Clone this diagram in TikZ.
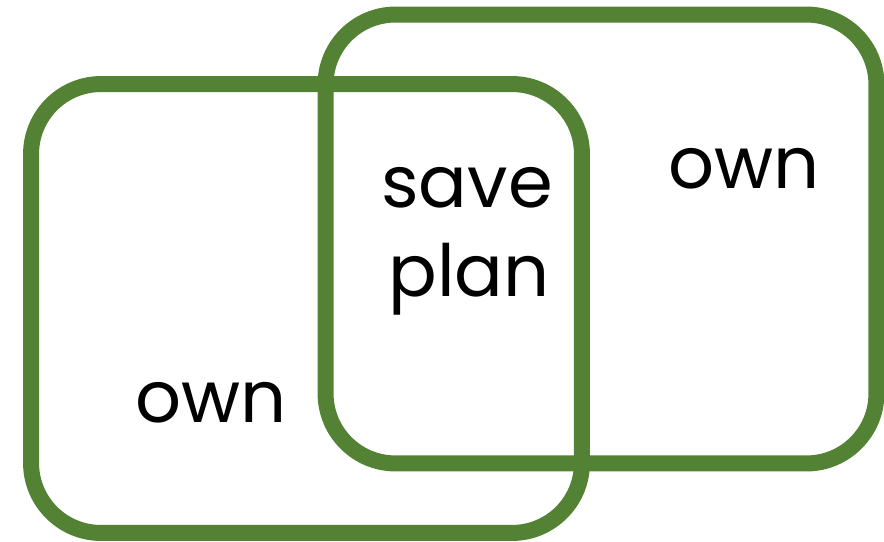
\documentclass[tikz,border=0pt]{standalone}
\usepackage{fontspec}
\setmainfont{Poppins}
\usetikzlibrary{positioning}
\definecolor{cgreen}{HTML}{548235}
\tikzset{
  every picture/.style={font=\fontsize{41}{49}\selectfont},
  setbox/.style={draw=cgreen, line width=0.32cm, rounded corners=1.4cm, minimum width=11.02cm, minimum height=8.98cm, inner sep=0pt},
  word/.style={anchor=base west, inner sep=0pt, text=black},
}
\begin{document}
\begin{tikzpicture}[x=0.02cm, y=-0.02cm]
  \useasboundingbox (0, 0) rectangle (884, 541);
  \node[setbox] (left) at (306.5, 308.5) {};
  \node[setbox] (right) at (601, 239) {};
  \node[word] (ownl) at (135, 422) {own};
  \node[word] (save) at (381, 207) {save};
  \node[word] (plan) at (388, 296) {plan};
  \node[word] (ownr) at (668, 188) {own};
\end{tikzpicture}
\end{document}
